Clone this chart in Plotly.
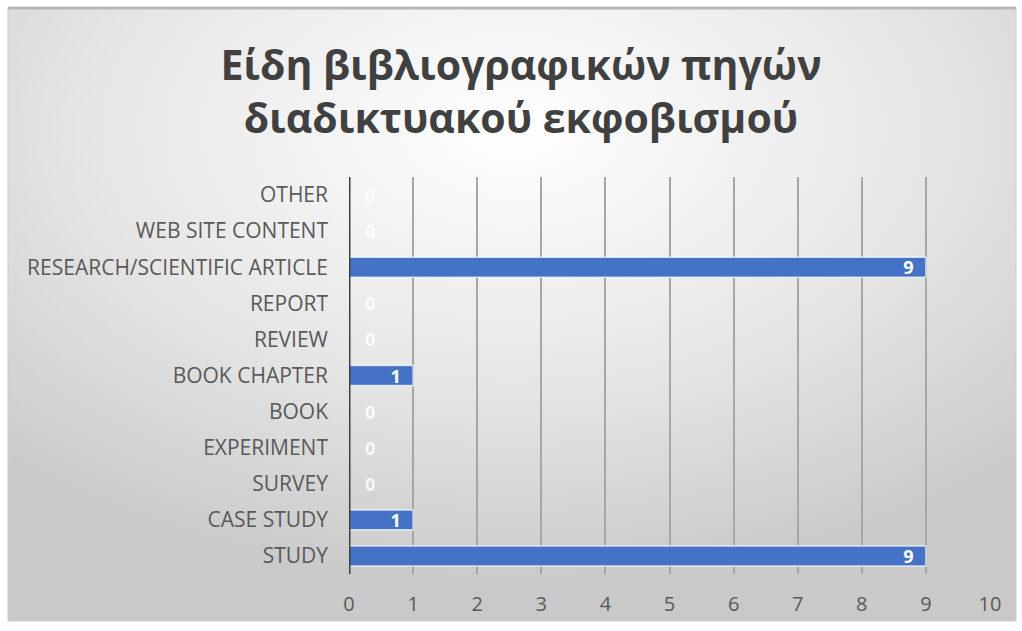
import plotly.graph_objects as go
import urllib.parse

categories = ["STUDY", "CASE STUDY", "SURVEY", "EXPERIMENT", "BOOK", "BOOK CHAPTER",
              "REVIEW", "REPORT", "RESEARCH/SCIENTIFIC ARTICLE", "WEB SITE CONTENT", "OTHER"]
values = [9, 1, 0, 0, 0, 1, 0, 0, 9, 0, 0]
x_ticks = list(range(0, 11))
title_text = "Είδη βιβλιογραφικών πηγών<br>διαδικτυακού εκφοβισμού"

W, H = 1022, 631
L, R, T, B = 349, 32, 177, 57
pw, ph = W - L - R, H - T - B

def px2x(px):
    return (px - L) / pw

def py2y(py):
    return 1 - (py - T) / ph

svg = ('<svg xmlns="http://www.w3.org/2000/svg" width="1000" height="600" preserveAspectRatio="none">'
       '<defs><radialGradient id="g" cx="0.5" cy="0.2" r="0.75" gradientUnits="objectBoundingBox">'
       '<stop offset="0" stop-color="#ffffff"/><stop offset="0.55" stop-color="#e6e6e6"/>'
       '<stop offset="1" stop-color="#c9c9c9"/></radialGradient></defs>'
       '<rect width="1000" height="600" fill="url(#g)"/></svg>')
svg_uri = "data:image/svg+xml;charset=utf-8," + urllib.parse.quote(svg)

bar_text = [str(v) + "\u00a0\u00a0" if v > 0 else "" for v in values]

fig = go.Figure()
fig.add_trace(go.Bar(
    y=categories, x=values, orientation="h",
    marker=dict(color="#4472C4", line=dict(color="rgba(255,255,255,0.7)", width=1.5)),
    text=bar_text, textposition="inside", insidetextanchor="end", textangle=0,
    textfont=dict(color="white", size=18, family="Open Sans", weight="bold"),
    hoverinfo="skip", cliponaxis=False,
))

annotations = [
    dict(x=v, y=c, xref="x", yref="y", text=str(v), showarrow=False, xanchor="center",
         xshift=21, font=dict(color="rgba(255,255,255,0.85)", size=18, family="Open Sans", weight="bold"))
    for c, v in zip(categories, values) if v == 0
]

fig.update_layout(
    width=W, height=H,
    margin=dict(l=L, r=R, t=T, b=B),
    paper_bgcolor="white", plot_bgcolor="rgba(0,0,0,0)",
    showlegend=False, bargap=0.45,
    uniformtext=dict(minsize=18, mode="show"),
    title=dict(text=title_text, x=521 / W, xref="container", xanchor="center",
               y=1 - 80 / H, yref="container", yanchor="middle",
               font=dict(family="Open Sans", size=41, color="#404040", weight="bold")),
    xaxis=dict(range=[0, 10], tickvals=x_ticks, showgrid=True, gridcolor="#a6a6a6", gridwidth=1.5,
               zeroline=False, showline=False, ticks="", tickfont=dict(family="Open Sans", size=20, color="#595959"),
               ticklabelstandoff=16),
    yaxis=dict(categoryorder="array", categoryarray=categories, showgrid=False, zeroline=False,
               showline=False, ticks="", tickfont=dict(family="Open Sans", size=21, color="#595959"),
               ticklabelstandoff=20),
    annotations=annotations,
    images=[dict(source=svg_uri, xref="paper", yref="paper",
                 x=px2x(8), y=py2y(8), sizex=px2x(1016) - px2x(8), sizey=py2y(8) - py2y(621),
                 xanchor="left", yanchor="top", sizing="stretch", layer="below")],
    shapes=[
        dict(type="rect", xref="paper", yref="paper", x0=px2x(8), x1=px2x(1016), y0=py2y(621), y1=py2y(8),
             line=dict(color="#d0d0d0", width=1), fillcolor="rgba(0,0,0,0)", layer="below"),
        dict(type="line", xref="paper", yref="paper", x0=px2x(8), x1=px2x(1016), y0=py2y(8), y1=py2y(8),
             line=dict(color="#b8b8b8", width=3), layer="below"),
        dict(type="line", xref="x", yref="paper", x0=0, x1=0, y0=0, y1=1,
             line=dict(color="#404040", width=3), layer="above"),
    ],
)
fig.write_html("out.html")
